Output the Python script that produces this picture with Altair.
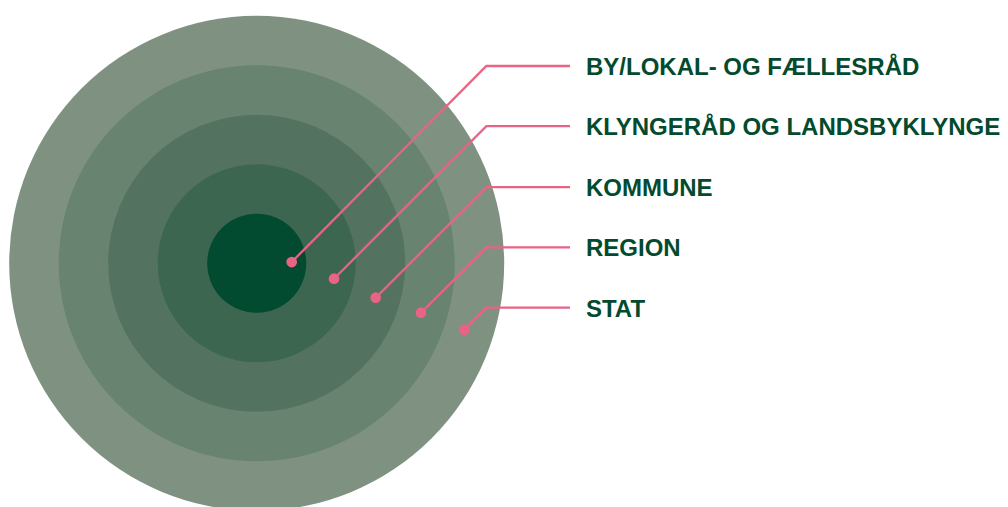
import altair as alt
import pandas as pd

# Concentric levels (outermost first), radius in ring units
levels = ["STAT", "REGION", "KOMMUNE", "KLYNGERÅD OG LANDSBYKLYNGE", "BY/LOKAL- OG FÆLLESRÅD"]
radii = [5.0, 4.0, 3.0, 2.0, 1.0]
ring_colors = ["#7F9282", "#68836F", "#537360", "#3D6650", "#024A30"]

# Labels (top to bottom) and leader positions in ring units
labels = ["BY/LOKAL- OG FÆLLESRÅD", "KLYNGERÅD OG LANDSBYKLYNGE", "KOMMUNE", "REGION", "STAT"]
label_y = [3.986, 2.77, 1.54, 0.32, -0.895]
dot_x = [0.707, 1.562, 2.404, 3.319, 4.194]
dot_y = [0.026, -0.311, -0.695, -0.998, -1.341]
elbow_x = [4.64, 4.64, 4.64, 4.64, 4.64]
line_end_x = [6.33, 6.33, 6.33, 6.33, 6.33]
text_x = [6.652, 6.652, 6.652, 6.652, 6.652]

PINK = "#E96385"
TEXT = "#034A2E"

W, H = 992, 499
UNIT = 49.5            # pixels per ring unit
CX, CY = 248.7, 255.3  # centre in plot pixels
xdom = [-CX / UNIT, (W - CX) / UNIT]
ydom = [-(H - CY) / UNIT, CY / UNIT]

xs = alt.Scale(domain=xdom, nice=False, zero=False)
ys = alt.Scale(domain=ydom, nice=False, zero=False)

rings = pd.DataFrame({
    "level": levels,
    "r": radii,
    "color": ring_colors,
    "cx": [0.0] * 5,
    "cy": [0.0] * 5,
    "order": list(range(5)),
})
rings["size"] = (2 * rings["r"] * UNIT) ** 2

circles = alt.Chart(rings).mark_point(filled=True, shape="circle", opacity=1, strokeWidth=0).encode(
    x=alt.X("cx:Q", scale=xs, axis=None),
    y=alt.Y("cy:Q", scale=ys, axis=None),
    size=alt.Size("size:Q", scale=None, legend=None),
    color=alt.Color("color:N", scale=None, legend=None),
    order=alt.Order("order:Q"),
)

rows = []
for i, lab in enumerate(labels):
    rows.append({"label": lab, "step": 0, "x": dot_x[i], "y": dot_y[i]})
    rows.append({"label": lab, "step": 1, "x": elbow_x[i], "y": label_y[i]})
    rows.append({"label": lab, "step": 2, "x": line_end_x[i], "y": label_y[i]})
lines_df = pd.DataFrame(rows)

leaders = alt.Chart(lines_df).mark_line(color=PINK, strokeWidth=2.3).encode(
    x=alt.X("x:Q", scale=xs, axis=None),
    y=alt.Y("y:Q", scale=ys, axis=None),
    detail="label:N",
    order="step:Q",
)

dots_df = pd.DataFrame({"label": labels, "x": dot_x, "y": dot_y})
dots = alt.Chart(dots_df).mark_point(filled=True, shape="circle", size=115, color=PINK, opacity=1, strokeWidth=0).encode(
    x=alt.X("x:Q", scale=xs, axis=None),
    y=alt.Y("y:Q", scale=ys, axis=None),
)

text_df = pd.DataFrame({"label": labels, "x": text_x, "y": label_y})
texts = alt.Chart(text_df).mark_text(
    align="left", baseline="middle", font="Liberation Sans", fontWeight="bold",
    fontSize=24, color=TEXT, dy=2,
).encode(
    x=alt.X("x:Q", scale=xs, axis=None),
    y=alt.Y("y:Q", scale=ys, axis=None),
    text="label:N",
)

chart = alt.layer(circles, leaders, dots, texts).properties(
    width=W, height=H, padding=0, autosize="none",
).configure(
    background="transparent",
    view=alt.ViewConfig(stroke="transparent", strokeWidth=0, strokeOpacity=0),
    style={"cell": {"stroke": "transparent", "strokeWidth": 0}},
)

chart.save("out.html", embed_options={"renderer": "svg", "actions": False})
